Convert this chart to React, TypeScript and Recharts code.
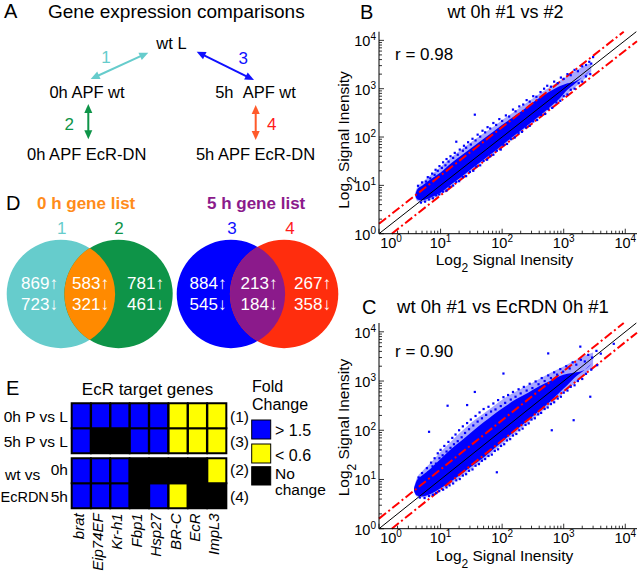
import React from 'react';
import { ComposedChart, Area, Scatter, XAxis, YAxis, ReferenceLine, BarChart, Bar, Cell } from 'recharts';

const FONT = "'Liberation Sans', Arial, Helvetica, sans-serif";

// ---------- Panel B : wt 0h #1 vs #2 ----------
// cloud envelope: [x, outer low, core low, core high, outer high]
const bandB: [number, number, number, number, number][] = [
  [3.9, 5.6, 6.0, 6.6, 7.2], [4.2, 4.7, 5.1, 8.3, 9.2], [5, 4.5, 4.9, 9.8, 11.5], [7, 5.1, 5.6, 13.5, 16.5],
  [10, 6.5, 7.0, 18.5, 24], [15, 9.6, 10.5, 29, 38], [22, 14, 15, 42, 56], [32, 20.5, 22, 60, 80],
  [50, 32, 34, 92, 120], [75, 47, 50, 135, 170], [110, 70, 74, 195, 245], [170, 108, 115, 290, 360],
  [260, 165, 175, 430, 530], [400, 255, 270, 640, 780], [600, 390, 420, 880, 1080],
  [850, 555, 620, 1120, 1450], [1150, 780, 950, 1300, 1800], [1500, 1050, 1250, 1400, 2300],
  [2000, 1450, 1700, 1700, 2800], [2800, 2200, 2500, 2500, 3500],
];
const pointsB: [number, number][] = [
  [4.3, 9.8], [5, 11.5], [5.8, 12], [6.2, 14.8], [6.8, 14], [7.3, 17.5], [8, 16.5], [8.3, 21], [9, 20],
  [9.6, 25], [10.5, 23], [11, 30], [12, 26], [12.5, 35], [13.5, 31], [14.5, 40], [16, 37], [17, 47],
  [18, 80], [19, 43], [20.5, 55], [23, 52], [24, 66], [26, 60], [28, 78], [31, 70], [33, 92], [36, 290],
  [37, 85], [40, 112], [44, 102], [48, 135], [53, 125], [58, 160], [64, 150], [72, 195], [80, 178],
  [90, 235], [100, 215], [115, 280], [130, 265], [150, 370], [165, 340], [190, 430], [220, 470],
  [250, 580], [280, 540], [320, 700], [360, 680], [420, 850], [480, 1000], [540, 1150], [620, 1100],
  [700, 1400], [800, 1300], [900, 1700], [1000, 1600], [1150, 2000], [1300, 1900], [1500, 2450],
  [1700, 2300], [2000, 2900], [2300, 3100], [2600, 3600], [3000, 4500], [2800, 3300],
  [4.8, 4.4], [5.6, 4.6], [6.5, 5.1], [7.5, 5.4], [8.5, 6.2], [9.5, 6.5], [11, 7.4], [12.5, 7.8],
  [14, 9.3], [16, 9.9], [18, 11.8], [20, 12.2], [23, 14.8], [26, 15.5], [30, 19], [34, 20], [38, 24.5],
  [44, 26], [50, 32], [57, 34], [64, 40], [72, 43], [82, 52], [95, 55], [105, 68], [120, 72], [140, 90],
  [160, 98], [185, 120], [210, 128], [245, 158], [280, 170], [320, 210], [370, 225], [430, 285],
  [500, 300], [560, 380], [650, 400], [760, 520], [880, 560], [1000, 700], [1150, 760], [1300, 950],
  [1500, 1000], [1750, 1300], [2000, 1400], [2300, 1800], [2700, 2000],
];

// ---------- Panel C : wt 0h #1 vs EcRDN 0h #1 ----------
const bandC: [number, number, number, number, number][] = [
  [3.7, 5.6, 5.9, 6.6, 7.0], [4.1, 4.5, 4.7, 9.5, 10.5], [5, 4.3, 4.5, 12, 14.5], [7, 4.7, 5.1, 17, 22],
  [10, 6.0, 6.6, 26, 36], [15, 8.3, 9.2, 42, 60], [22, 11.5, 13, 62, 95], [32, 16.5, 18.5, 92, 145],
  [50, 25, 28, 145, 220], [75, 38, 43, 215, 320], [110, 57, 65, 300, 450], [170, 90, 102, 430, 620],
  [260, 140, 158, 570, 820], [400, 215, 245, 780, 1100], [600, 330, 380, 1000, 1450],
  [850, 480, 580, 1250, 1800], [1150, 680, 830, 1400, 2200], [1600, 950, 1250, 1500, 2700],
  [2200, 1350, 1700, 1700, 3300], [3000, 2000, 2400, 2400, 3800],
];
const pointsC: [number, number][] = [
  [4.4, 11], [5, 13.5], [5.3, 10.5], [6, 17], [6.5, 93], [6.4, 14], [7, 22], [7.4, 18.5], [8, 27],
  [8.4, 21], [9, 34], [9.6, 27], [10, 40], [10.8, 31], [11.5, 48], [12.5, 37], [13, 315], [13.4, 58],
  [14.5, 44], [15.5, 70], [16.5, 52], [17.5, 82], [19, 60], [20, 100], [22, 72], [23, 120], [25, 88],
  [27, 325], [27, 140], [29, 105], [31, 165], [34, 125], [36, 600], [37, 195], [40, 150], [43, 230],
  [47, 175], [50, 270], [55, 205], [60, 300], [66, 240], [72, 350], [78, 265], [86, 410], [95, 310],
  [105, 1420], [105, 470], [112, 360], [125, 520], [138, 420], [150, 600], [165, 480], [185, 680],
  [200, 560], [225, 760], [250, 640], [280, 880], [310, 720], [350, 980], [390, 860], [440, 1150],
  [490, 1000], [560, 3640], [560, 1300], [620, 1150], [700, 1500], [780, 1350], [880, 1750],
  [980, 1550], [1100, 2000], [1250, 1800], [1400, 2400], [1600, 2150], [1860, 5000], [1900, 2700],
  [2200, 2500], [2500, 3400], [2900, 3000], [3400, 4100], [4000, 3600], [6500, 5700],
  [4.6, 4.3], [5.5, 4.2], [6.5, 4.6], [7.5, 4.9], [8.5, 5.3], [9.5, 5.8], [11, 6.2], [12.5, 6.9],
  [14, 7.6], [16, 8.3], [18, 9.6], [20.5, 10.2], [23, 12], [26, 12.8], [29, 15], [33, 16], [37, 19],
  [42, 20.5], [47, 24], [53, 26], [60, 30], [68, 32], [76, 38], [82, 14], [86, 41], [96, 48],
  [108, 52], [120, 62], [135, 66], [150, 78], [170, 84], [190, 100], [215, 108], [240, 128],
  [270, 138], [300, 165], [340, 175], [385, 210], [430, 225], [490, 270], [550, 290], [620, 340],
  [640, 100], [700, 370], [800, 440], [900, 480], [1000, 580], [1150, 640], [1300, 760], [1450, 160],
  [1500, 820], [1700, 1000], [2000, 1100], [2300, 1400], [2700, 480], [2800, 1700], [3500, 2100],
];

const MAJOR_TICKS = [1, 10, 100, 1000, 10000];
const MINOR_MULT = [2, 3, 4, 5, 6, 7, 8, 9];
const LOG_TICKS = MAJOR_TICKS.flatMap((m) => (m === 10000 ? [m] : [m, ...MINOR_MULT.map((k) => k * m)]));

// ---------- Panel D : Venn counts ----------
const vennUp0 = [869, 583, 781];
const vennDown0 = [723, 321, 461];
const vennUp5 = [884, 213, 267];
const vennDown5 = [545, 184, 358];

// ---------- Panel E : EcR target genes ----------
const genes = ['brat', 'Eip74EF', 'Kr-h1', 'Fbp1', 'Hsp27', 'BR-C', 'EcR', 'ImpL3'];
// u = > 1.5, d = < 0.6, n = no change
const row1 = ['u', 'u', 'u', 'u', 'u', 'd', 'd', 'd']; // 0h P vs L (1)
const row3 = ['u', 'n', 'n', 'u', 'u', 'd', 'd', 'd']; // 5h P vs L (3)
const row2 = ['u', 'u', 'u', 'n', 'n', 'n', 'n', 'd']; // wt vs EcRDN 0h (2)
const row4 = ['u', 'u', 'u', 'n', 'u', 'd', 'n', 'n']; // wt vs EcRDN 5h (4)
const CODE_COLOR: Record<string, string> = { u: '#0000ff', d: '#ffff00', n: '#000000' };

const isMajor = (v: number) => Math.abs(Math.log10(v) - Math.round(Math.log10(v))) < 1e-6;

function XTick(props: any) {
  const { x, y, payload } = props;
  const v = payload.value;
  const major = isMajor(v);
  const e = Math.round(Math.log10(v));
  return (
    <g>
      <line x1={x} x2={x} y1={y} y2={y - (major ? 5 : 3)} stroke="#000" strokeWidth={0.8} />
      {major && (
        <text x={x + (e === 0 ? 12 : 0)} y={y + 14.5} textAnchor="middle" fontFamily={FONT} fontSize={14.5} fill="#000">
          10<tspan dy={-6} fontSize={10}>{e}</tspan>
        </text>
      )}
    </g>
  );
}

function YTick(props: any) {
  const { x, y, payload } = props;
  const v = payload.value;
  const major = isMajor(v);
  const e = Math.round(Math.log10(v));
  return (
    <g>
      <line x1={x} x2={x + (major ? 5 : 3)} y1={y} y2={y} stroke="#000" strokeWidth={0.8} />
      {major && (
        <text x={x - 3} y={y + 6} textAnchor="end" fontFamily={FONT} fontSize={14.5} fill="#000">
          10<tspan dy={-6} fontSize={10}>{e}</tspan>
        </text>
      )}
    </g>
  );
}

const BlueDot = (p: any) =>
  p.cx == null || p.cy == null ? <g /> : <rect x={p.cx - 1.1} y={p.cy - 1.1} width={2.2} height={2.2} fill="#0000ff" />;

const XMAX = 15500;
const YMAX = 15100;
const UP = 1.6;
const LOW = 0.62;

function ScatterPanel({ band, pts, height, mTop, mBottom }: { band: [number, number, number, number, number][]; pts: [number, number][]; height: number; mTop: number; mBottom: number }) {
  const bandData = band.map(([x, oLo, iLo, iHi, oHi]) => ({ x, outer: [oLo, oHi], inner: [iLo, iHi] }));
  const ptData = pts.map(([x, y]) => ({ x, y }));
  return (
    <ComposedChart width={310} height={height} data={bandData} margin={{ top: mTop, right: 3, bottom: mBottom - 30, left: 9 }}>
      <XAxis
        type="number"
        dataKey="x"
        scale="log"
        domain={[1, XMAX]}
        allowDataOverflow
        ticks={LOG_TICKS}
        interval={0}
        tick={<XTick />}
        tickLine={false}
        tickSize={0}
        tickMargin={0}
        height={30}
        axisLine={{ stroke: '#000', strokeWidth: 1 }}
      />
      <YAxis
        type="number"
        scale="log"
        domain={[1, YMAX]}
        allowDataOverflow
        ticks={LOG_TICKS}
        interval={0}
        tick={<YTick />}
        tickLine={false}
        tickSize={0}
        tickMargin={0}
        width={40}
        axisLine={{ stroke: '#000', strokeWidth: 1 }}
      />
      <Area type="monotone" dataKey="outer" stroke="none" fill="#0000ff" fillOpacity={0.35} isAnimationActive={false} />
      <Area type="monotone" dataKey="inner" stroke="none" fill="#0000ff" fillOpacity={1} isAnimationActive={false} />
      <Scatter data={ptData} dataKey="y" shape={BlueDot} isAnimationActive={false} />
      <ReferenceLine segment={[{ x: 1, y: 1 }, { x: YMAX, y: YMAX }]} stroke="#000" strokeWidth={1} ifOverflow="visible" />
      <ReferenceLine segment={[{ x: 1, y: UP }, { x: YMAX / UP, y: YMAX }]} stroke="#ff0000" strokeWidth={2} strokeDasharray="9 3 2 3" ifOverflow="visible" />
      <ReferenceLine segment={[{ x: 1 / LOW, y: 1 }, { x: XMAX, y: XMAX * LOW }]} stroke="#ff0000" strokeWidth={2} strokeDasharray="9 3 2 3" ifOverflow="visible" />
    </ComposedChart>
  );
}

function GeneTick(props: any) {
  const { x, y, payload } = props;
  return (
    <text
      transform={`translate(${x - 3}, ${y + 5}) rotate(-90)`}
      textAnchor="end"
      dy="0.35em"
      fontFamily={FONT}
      fontStyle="italic"
      fontSize={15}
      fill="#000"
    >
      {payload.value}
    </text>
  );
}

function Heatmap() {
  const data = genes.map((g, i) => ({ gene: g, r4: 1, r2: 1, gap: 0.2, r3: 1, r1: 1, i }));
  const rows: [string, string[]][] = [['r4', row4], ['r2', row2], ['gap', []], ['r3', row3], ['r1', row1]];
  return (
    <BarChart width={250} height={181} data={data} margin={{ top: 13.3, right: 23.3, bottom: 2.7, left: 71.7 }} barCategoryGap={0} barGap={0}>
      <XAxis dataKey="gene" type="category" interval={0} tick={<GeneTick />} tickLine={false} axisLine={false} tickSize={0} tickMargin={0} height={60} />
      <YAxis hide domain={[0, 4.2]} type="number" />
      {rows.map(([key, codes]) => (
        <Bar key={key} dataKey={key} stackId="s" isAnimationActive={false}>
          {data.map((d, i) =>
            key === 'gap' ? (
              <Cell key={i} fill="none" stroke="none" />
            ) : (
              <Cell key={i} fill={CODE_COLOR[codes[i]]} stroke="#000" strokeWidth={2} />
            )
          )}
        </Bar>
      ))}
    </BarChart>
  );
}

function DoubleArrow({ x1, y1, x2, y2, color }: { x1: number; y1: number; x2: number; y2: number; color: string }) {
  const dx = x2 - x1;
  const dy = y2 - y1;
  const L = Math.hypot(dx, dy);
  const ux = dx / L;
  const uy = dy / L;
  const hl = 9;
  const hw = 4;
  const head = (tx: number, ty: number, dir: number) => {
    const bx = tx - dir * ux * hl;
    const by = ty - dir * uy * hl;
    return `${tx},${ty} ${bx - uy * hw},${by + ux * hw} ${bx + uy * hw},${by - ux * hw}`;
  };
  return (
    <g>
      <line x1={x1 + ux * 6} y1={y1 + uy * 6} x2={x2 - ux * 6} y2={y2 - uy * 6} stroke={color} strokeWidth={2} />
      <polygon points={head(x2, y2, 1)} fill={color} />
      <polygon points={head(x1, y1, -1)} fill={color} />
    </g>
  );
}

function Venn({ c1, c2, col1, col2, lens, up, down, centers }: { c1: number; c2: number; col1: string; col2: string; lens: string; up: number[]; down: number[]; centers: number[] }) {
  const r = 54.2;
  const cy = 294;
  const d = c2 - c1;
  const h = Math.sqrt(r * r - (d / 2) * (d / 2));
  const mx = (c1 + c2) / 2;
  const path = `M ${mx} ${cy - h} A ${r} ${r} 0 0 1 ${mx} ${cy + h} A ${r} ${r} 0 0 1 ${mx} ${cy - h} Z`;
  return (
    <g>
      <circle cx={c1} cy={cy} r={r} fill={col1} />
      <circle cx={c2} cy={cy} r={r} fill={col2} />
      <path d={path} fill={lens} />
      {centers.map((cx, i) => (
        <g key={i}>
          <text x={cx} y={289} textAnchor="middle" fontFamily={FONT} fontSize={17} fill="#fff">{up[i]}↑</text>
          <text x={cx} y={310} textAnchor="middle" fontFamily={FONT} fontSize={17} fill="#fff">{down[i]}↓</text>
        </g>
      ))}
    </g>
  );
}

export default function App() {
  const T = (p: any) => <text fontFamily={FONT} fill="#000" {...p} />;
  return (
    <div style={{ position: 'absolute', left: 0, top: 0, width: 640, height: 571, background: '#fff', overflow: 'hidden' }}>
      <div style={{ position: 'absolute', left: 330, top: 0 }}>
        <ScatterPanel band={bandB} pts={pointsB} height={290} mTop={31.7} mBottom={56.3} />
      </div>
      <div style={{ position: 'absolute', left: 330, top: 290 }}>
        <ScatterPanel band={bandC} pts={pointsC} height={281} mTop={33} mBottom={42.3} />
      </div>
      <div style={{ position: 'absolute', left: 0, top: 390 }}>
        <Heatmap />
      </div>
      <svg width={640} height={571} style={{ position: 'absolute', left: 0, top: 0, pointerEvents: 'none' }}>
        {/* Panel A */}
        <T x={4} y={18} fontSize={20}>A</T>
        <T x={48} y={17.5} fontSize={19}>Gene expression comparisons</T>
        <T x={171.5} y={49} fontSize={16.5} textAnchor="middle">wt L</T>
        <T x={87} y={98} fontSize={16.5} textAnchor="middle">0h APF wt</T>
        <T x={255.5} y={98} fontSize={16.5} textAnchor="middle">5h{'\u00a0\u00a0'}APF wt</T>
        <T x={86.7} y={160} fontSize={16.5} textAnchor="middle">0h APF EcR-DN</T>
        <T x={255.5} y={160} fontSize={16.5} textAnchor="middle">5h APF EcR-DN</T>
        <DoubleArrow x1={90.7} y1={79} x2={148.3} y2={52.7} color="#66cccc" />
        <DoubleArrow x1={196.7} y1={51.7} x2={254} y2={80} color="#1010ff" />
        <DoubleArrow x1={88.3} y1={104} x2={88.3} y2={139.3} color="#0e9448" />
        <DoubleArrow x1={255.7} y1={105} x2={255.7} y2={140} color="#ff5a2a" />
        <T x={106} y={63} fontSize={17} textAnchor="middle" fill="#66cccc">1</T>
        <T x={243.3} y={63.5} fontSize={17} textAnchor="middle" fill="#1010ff">3</T>
        <T x={69.3} y={129.5} fontSize={17} textAnchor="middle" fill="#0e9448">2</T>
        <T x={271.7} y={129.5} fontSize={17} textAnchor="middle" fill="#ff1a1a">4</T>

        {/* Panel B texts */}
        <T x={360} y={18.5} fontSize={20}>B</T>
        <T x={505.5} y={18} fontSize={18} textAnchor="middle">wt 0h #1 vs #2</T>
        <T x={395} y={60} fontSize={17}>r = 0.98</T>
        <T x={504.5} y={264.5} fontSize={15.5} textAnchor="middle">Log<tspan baselineShift="sub" fontSize={12}>2</tspan> Signal Inensity</T>
        <T transform="translate(348.5, 140) rotate(-90)" fontSize={15.5} textAnchor="middle">Log<tspan baselineShift="sub" fontSize={12}>2</tspan> Signal Inensity</T>

        {/* Panel C texts */}
        <T x={362} y={313.5} fontSize={20}>C</T>
        <T x={503} y={313} fontSize={18.5} textAnchor="middle">wt 0h #1 vs EcRDN 0h #1</T>
        <T x={395} y={357} fontSize={17}>r = 0.90</T>
        <T x={504.5} y={561} fontSize={15.5} textAnchor="middle">Log<tspan baselineShift="sub" fontSize={12}>2</tspan> Signal Inensity</T>
        <T transform="translate(348.5, 427.5) rotate(-90)" fontSize={15.5} textAnchor="middle">Log<tspan baselineShift="sub" fontSize={12}>2</tspan> Signal Inensity</T>

        {/* Panel D */}
        <T x={6} y={210} fontSize={20}>D</T>
        <T x={37} y={208.5} fontSize={17} fontWeight="bold" fill="#ff8c1a">0 h gene list</T>
        <T x={207} y={208.5} fontSize={17} fontWeight="bold" fill="#8b1a8b">5 h gene list</T>
        <T x={61.7} y={233.5} fontSize={17} textAnchor="middle" fill="#66cccc">1</T>
        <T x={119} y={233.5} fontSize={17} textAnchor="middle" fill="#0e9448">2</T>
        <T x={232} y={233.5} fontSize={17} textAnchor="middle" fill="#1010ff">3</T>
        <T x={290} y={233.5} fontSize={17} textAnchor="middle" fill="#ff1a1a">4</T>
        <Venn c1={60.9} c2={118.5} col1="#66cccc" col2="#0e9448" lens="#ff8a00" up={vennUp0} down={vennDown0} centers={[39.5, 90.5, 145.5]} />
        <Venn c1={230.9} c2={284.1} col1="#0000ff" col2="#ff2d0d" lens="#8b1a8b" up={vennUp5} down={vennDown5} centers={[208, 259, 312.5]} />

        {/* Panel E */}
        <T x={6} y={395} fontSize={20}>E</T>
        <T x={147.5} y={395} fontSize={17} textAnchor="middle">EcR target genes</T>
        <T x={68} y={422} fontSize={15.5} textAnchor="end">0h P vs L</T>
        <T x={68} y={447} fontSize={15.5} textAnchor="end">5h P vs L</T>
        <T x={68} y={475} fontSize={15.5} textAnchor="end">0h</T>
        <T x={68} y={501.5} fontSize={15.5} textAnchor="end">5h</T>
        <T x={5} y={479.5} fontSize={15.5}>wt vs</T>
        <T x={0.5} y={501.5} fontSize={14.5}>EcRDN</T>
        <T x={230} y={422} fontSize={15.5}>(1)</T>
        <T x={230} y={447} fontSize={15.5}>(3)</T>
        <T x={230} y={475} fontSize={15.5}>(2)</T>
        <T x={230} y={501.5} fontSize={15.5}>(4)</T>
        <T x={252} y={392} fontSize={16}>Fold</T>
        <T x={252} y={410} fontSize={16}>Change</T>
        <rect x={251.7} y={420} width={19} height={19} fill="#0000ff" stroke="#000" strokeWidth={1} />
        <rect x={251.7} y={444} width={19} height={19} fill="#ffff00" stroke="#000" strokeWidth={1} />
        <rect x={251.7} y={466.7} width={19} height={18.3} fill="#000" stroke="#000" strokeWidth={1} />
        <T x={275} y={436} fontSize={16}>&gt; 1.5</T>
        <T x={275} y={461} fontSize={16}>&lt; 0.6</T>
        <T x={275} y={478.5} fontSize={15.5}>No</T>
        <T x={275} y={495} fontSize={15.5}>change</T>
      </svg>
    </div>
  );
}
